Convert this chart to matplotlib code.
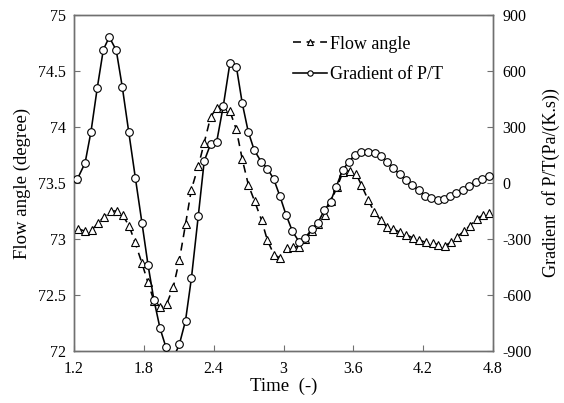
import matplotlib
matplotlib.use("Agg")
import matplotlib.pyplot as plt
from matplotlib.ticker import FuncFormatter

plt.rcParams['font.family'] = ['Liberation Serif', 'DejaVu Serif']
plt.rcParams['axes.unicode_minus'] = False

# Flow angle (left axis, degree)
t_angle = [1.237, 1.295, 1.352, 1.406, 1.459, 1.514, 1.567, 1.618, 1.673, 1.724,
           1.782, 1.833, 1.886, 1.943, 1.996, 2.053, 2.105, 2.158, 2.208, 2.268,
           2.319, 2.374, 2.426, 2.483, 2.540, 2.594, 2.646, 2.699, 2.751, 2.811,
           2.861, 2.918, 2.971, 3.028, 3.080, 3.136, 3.189, 3.245, 3.299, 3.354,
           3.408, 3.459, 3.511, 3.569, 3.625, 3.670, 3.727, 3.780, 3.835, 3.886,
           3.943, 4.001, 4.052, 4.110, 4.167, 4.224, 4.282, 4.331, 4.387, 4.436,
           4.493, 4.551, 4.602, 4.660, 4.711, 4.768]
flow_angle = [73.09, 73.07, 73.08, 73.14, 73.20, 73.25, 73.25, 73.21, 73.12, 72.97,
              72.79, 72.62, 72.45, 72.39, 72.42, 72.57, 72.81, 73.13, 73.44, 73.65,
              73.86, 74.09, 74.17, 74.17, 74.14, 73.98, 73.71, 73.48, 73.34, 73.17,
              72.99, 72.86, 72.83, 72.92, 72.93, 72.93, 73.00, 73.07, 73.13, 73.21,
              73.34, 73.46, 73.60, 73.61, 73.58, 73.48, 73.35, 73.24, 73.17, 73.11,
              73.09, 73.06, 73.04, 73.01, 72.99, 72.97, 72.96, 72.95, 72.94, 72.97,
              73.02, 73.07, 73.12, 73.18, 73.21, 73.23]

# Gradient of P/T (right axis, Pa/(K.s))
t_grad = [1.228, 1.295, 1.346, 1.400, 1.452, 1.503, 1.563, 1.615, 1.670, 1.727,
          1.784, 1.836, 1.887, 1.939, 1.990, 2.046, 2.105, 2.158, 2.209, 2.268,
          2.319, 2.374, 2.426, 2.483, 2.540, 2.596, 2.646, 2.697, 2.748, 2.807,
          2.862, 2.916, 2.970, 3.021, 3.077, 3.133, 3.185, 3.242, 3.296, 3.350,
          3.404, 3.453, 3.507, 3.560, 3.614, 3.668, 3.726, 3.783, 3.840, 3.892,
          3.945, 4.001, 4.052, 4.104, 4.160, 4.215, 4.271, 4.325, 4.376, 4.430,
          4.486, 4.540, 4.598, 4.652, 4.705, 4.764]
gradient = [20, 107, 275, 510, 714, 782, 711, 514, 275, 28,
            -214, -439, -627, -778, -880, -948, -865, -738, -509, -175,
            118, 209, 221, 414, 644, 619, 426, 275, 177, 115,
            77, 21, -72, -169, -259, -314, -295, -248, -212, -147,
            -100, -19, 67, 114, 150, 166, 168, 161, 145, 114,
            78, 46, 16, -11, -38, -67, -83, -91, -84, -71,
            -54, -36, -15, 5, 23, 36]

x_ticks = [1.2, 1.8, 2.4, 3.0, 3.6, 4.2, 4.8]
x_ticklabels = ['1.2', '1.8', '2.4', '3', '3.6', '4.2', '4.8']
left_ticks = [72, 72.5, 73, 73.5, 74, 74.5, 75]
left_ticklabels = ['72', '72.5', '73', '73.5', '74', '74.5', '75']
right_ticks = [-900, -600, -300, 0, 300, 600, 900]

fig = plt.figure(figsize=(5.64, 4.03), dpi=100)
ax = fig.add_axes([74/564, 1-351/403, (493-74)/564, (351-15)/403])
ax2 = ax.twinx()

spine_color = '#707070'
l1, = ax.plot(t_angle, flow_angle, color='black', lw=1.15, ls=(0, (5, 3.5)),
              marker='^', ms=5.5, mfc='white', mec='black', mew=0.8, zorder=3)
l2, = ax2.plot(t_grad, gradient, color='black', lw=1.15, ls='-',
               marker='o', ms=5.5, mfc='white', mec='black', mew=0.8, zorder=3)

ax.set_xlim(1.2, 4.8)
ax.set_ylim(72, 75)
ax2.set_ylim(-900, 900)
ax.set_xticks(x_ticks)
ax.set_xticklabels(x_ticklabels)
ax.set_yticks(left_ticks)
ax.set_yticklabels(left_ticklabels)
ax2.set_yticks(right_ticks)
ax2.yaxis.set_major_formatter(FuncFormatter(lambda v, p: '%d' % v))

for a in (ax, ax2):
    for s in a.spines.values():
        s.set_color(spine_color)
        s.set_linewidth(1.0)
    a.tick_params(direction='in', length=4, width=0.8, color=spine_color,
                  labelsize=11.5, colors='black')
    a.tick_params(axis='both', color=spine_color)
ax.tick_params(axis='x', pad=7)
ax.tick_params(axis='y', pad=6)
ax2.tick_params(axis='y', pad=7)

ax.set_xlabel('Time  (-)', fontsize=13.5, labelpad=1)
ax.set_ylabel('Flow angle (degree)', fontsize=13.5, labelpad=5)
ax2.set_ylabel('Gradient  of P/T(Pa/(K.s))', fontsize=13, labelpad=7)

leg = ax.legend([l1, l2], ['Flow angle', 'Gradient of P/T'], loc='upper left',
                bbox_to_anchor=(0.505, 0.96), frameon=False, fontsize=13,
                handlelength=1.9, handletextpad=0.15, markerscale=0.7,
                labelspacing=0.75, borderaxespad=0)

fig.savefig('out.png', dpi=100)
